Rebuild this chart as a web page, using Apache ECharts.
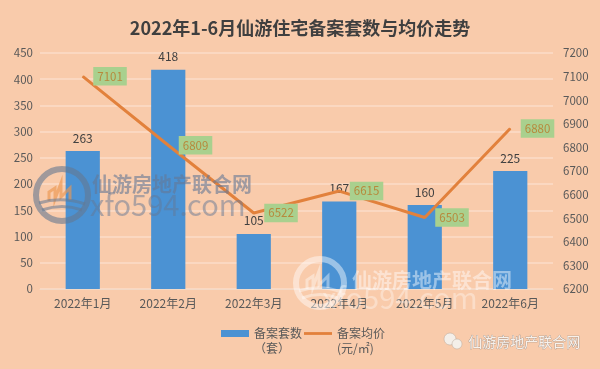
<!DOCTYPE html>
<html><head><meta charset="utf-8">
<script src="https://cdn.jsdelivr.net/npm/echarts@6/dist/echarts.min.js"></script>
<style>html,body{margin:0;padding:0;background:#f9cbab;}#c{width:600px;height:369px;}</style>
</head><body><div id="c"></div>
<script>
var categories = ['2022年1月','2022年2月','2022年3月','2022年4月','2022年5月','2022年6月'];
var counts = [263, 418, 105, 167, 160, 225];
var prices = [7101, 6809, 6522, 6615, 6503, 6880];
var leftTicks = [0, 450, 50];
var rightTicks = [6200, 7200, 100];
var seriesNames = ['备案套数\n（套）', '备案均价\n(元/㎡)'];
var titleText = '2022年1-6月仙游住宅备案套数与均价走势';
var watermarkName = '仙游房地产联合网';
var watermarkSite = 'xfo594.com';

var font = '"Noto Sans CJK SC", "Noto Sans", sans-serif';
var chart = echarts.init(document.getElementById('c'), null, {renderer: 'canvas'});
function logo(cx, cy, r, ringColor, innerColor, waveColor) {
  return [
    {type: 'circle', shape: {cx: cx, cy: cy, r: r}, style: {fill: 'none', stroke: ringColor, lineWidth: 6}, silent: true, z: 100},
    {type: 'polyline', shape: {points: [[cx-13,cy+6],[cx-13,cy-3],[cx-7,cy-7],[cx-7,cy+4],[cx-1,cy-12],[cx-1,cy+2],[cx+8,cy-7],[cx+8,cy+5]]}, style: {fill: 'none', stroke: innerColor, lineWidth: 3}, silent: true, z: 100},
    {type: 'bezierCurve', shape: {x1: cx-r+3, y1: cy+8, cpx1: cx, cpy1: cy+1, x2: cx+r-3, y2: cy+9}, style: {fill: 'none', stroke: waveColor, lineWidth: 3}, silent: true, z: 100},
    {type: 'bezierCurve', shape: {x1: cx-r+6, y1: cy+15, cpx1: cx, cpy1: cy+8, x2: cx+r-6, y2: cy+15}, style: {fill: 'none', stroke: waveColor, lineWidth: 3}, silent: true, z: 100}
  ];
}
var graphics = [].concat(
  logo(62, 195, 26, 'rgba(100,120,145,0.6)', 'rgba(235,150,80,0.65)', 'rgba(100,120,145,0.55)'),
  [
    {type: 'text', left: 92, top: 174, style: {text: watermarkName, font: 'bold 20px ' + font, fill: 'rgba(100,120,150,0.6)'}, silent: true, z: 100},
    {type: 'text', left: 90, top: 190, style: {text: watermarkSite, font: '29px ' + font, fill: 'rgba(100,120,150,0.5)'}, silent: true, z: 100}
  ],
  logo(320, 283, 24, 'rgba(255,255,255,0.45)', 'rgba(255,255,255,0.4)', 'rgba(255,255,255,0.4)'),
  [
    {type: 'text', left: 352, top: 270, style: {text: watermarkName, font: 'bold 20px ' + font, fill: 'rgba(255,255,255,0.45)'}, silent: true, z: 100},
    {type: 'text', left: 322, top: 283, style: {text: watermarkSite, font: '29px ' + font, fill: 'rgba(255,255,255,0.35)'}, silent: true, z: 100},
    {type: 'circle', shape: {cx: 450, cy: 339, r: 6}, style: {fill: '#f4efe9', stroke: '#b8a89a', lineWidth: 0.5}, silent: true, z: 100},
    {type: 'circle', shape: {cx: 457, cy: 344, r: 5}, style: {fill: '#f4efe9', stroke: '#b8a89a', lineWidth: 0.5}, silent: true, z: 100},
    {type: 'text', left: 468, top: 334, style: {text: watermarkName, font: '14px ' + font, fill: '#f6f1ec', stroke: '#9a8f88', lineWidth: 0.6}, silent: true, z: 100}
  ]
);
var option = {
  backgroundColor: '#f9cbab',
  animation: false,
  title: {
    text: titleText, left: 'center', top: 14,
    textStyle: {fontFamily: font, fontSize: 18, fontWeight: 'bold', color: '#3f3f3f'}
  },
  grid: {left: 40, right: 47, top: 53, bottom: 80},
  legend: {
    left: 216, top: 306,
    itemWidth: 28, itemHeight: 7, itemGap: 2,
    formatter: function (n) { return ' \n' + n; },
    textStyle: {fontFamily: font, fontSize: 12, color: '#595959', lineHeight: 15},
    data: [
      {name: seriesNames[0], icon: 'rect'},
      {name: seriesNames[1], icon: 'path://M0,0H10V1H0Z'}
    ]
  },
  xAxis: {
    type: 'category', data: categories,
    axisLine: {show: true, lineStyle: {color: '#f3d9c6', width: 1}},
    axisTick: {show: false},
    axisLabel: {fontFamily: font, fontSize: 12, color: '#595959', margin: 8}
  },
  yAxis: [
    {
      type: 'value', min: leftTicks[0], max: leftTicks[1], interval: leftTicks[2],
      axisLine: {show: false}, axisTick: {show: false},
      axisLabel: {fontFamily: font, fontSize: 11.5, color: '#595959', margin: 7},
      splitLine: {lineStyle: {color: '#fbdcc8', width: 1.5}}
    },
    {
      type: 'value', min: rightTicks[0], max: rightTicks[1], interval: rightTicks[2],
      axisLine: {show: false}, axisTick: {show: false},
      axisLabel: {fontFamily: font, fontSize: 11.5, color: '#595959', margin: 10, formatter: function (v) { return String(v); }},
      splitLine: {show: false}
    }
  ],
  series: [
    {
      name: seriesNames[0], type: 'bar', data: counts, yAxisIndex: 0,
      barWidth: '40%',
      itemStyle: {color: '#4b92d3'},
      label: {show: true, position: 'top', distance: 7, fontFamily: font, fontSize: 12, color: '#404040'},
      z: 2
    },
    {
      name: seriesNames[1], type: 'line', data: prices, yAxisIndex: 1,
      symbol: 'circle', symbolSize: 1, showSymbol: true,
      lineStyle: {color: '#e2813c', width: 3},
      itemStyle: {color: '#e2813c'},
      label: {
        show: true, position: 'right', distance: 10,
        fontFamily: font, fontSize: 11.5, color: '#b7893c',
        backgroundColor: '#a9d08e', padding: [4, 4, 3, 4]
      },
      z: 3
    }
  ],
  graphic: graphics
};
chart.setOption(option);
</script>
</body></html>
